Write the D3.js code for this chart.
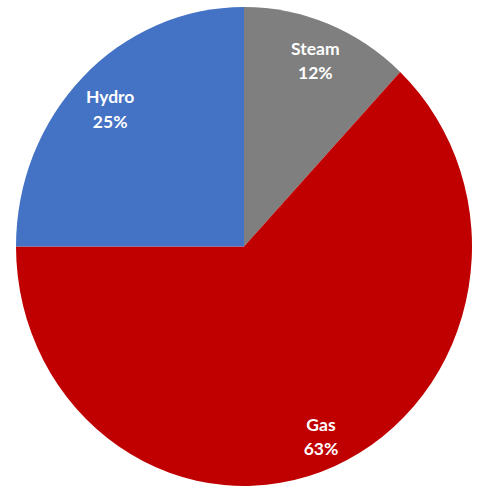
<!DOCTYPE html>
<html><head><meta charset="utf-8">
<script src="https://cdn.jsdelivr.net/npm/d3@7"></script>
<style>html,body{margin:0;padding:0;background:#fff;}</style>
</head><body>
<svg id="chart" width="487" height="491"></svg>
<script>
const categories = ["Steam", "Gas", "Hydro"];
const values = [12, 63, 25];
const colors = ["#7F7F7F", "#C00000", "#4472C4"];
const labelRadius = [0.85, 0.85, 0.83];

const svg = d3.select("#chart");
const cx = 244, cy = 246.5, rx = 228, ry = 239.5;
const pie = d3.pie().sort(null).value(d => d)(values);
const arc = d3.arc().innerRadius(0).outerRadius(1);

const g = svg.append("g").attr("transform", `translate(${cx},${cy}) scale(${rx},${ry})`);
g.selectAll("path").data(pie).join("path")
  .attr("d", arc).attr("fill", (d, i) => colors[i]);

const lab = svg.append("g");
pie.forEach((d, i) => {
  const a = (d.startAngle + d.endAngle) / 2;
  const x = cx + Math.sin(a) * labelRadius[i] * rx;
  const y = cy - Math.cos(a) * labelRadius[i] * ry;
  const t = lab.append("text").attr("x", x).attr("y", y)
    .attr("text-anchor", "middle").attr("fill", "#fff")
    .style("font-family", "Lato, 'Open Sans', sans-serif")
    .style("font-weight", "bold").style("font-size", "17.5px");
  t.append("tspan").attr("x", x).attr("dy", "-0.15em").text(categories[i]);
  t.append("tspan").attr("x", x).attr("dy", "1.4em").text(d3.format(".0%")(d.value / 100));
});
</script>
</body></html>
